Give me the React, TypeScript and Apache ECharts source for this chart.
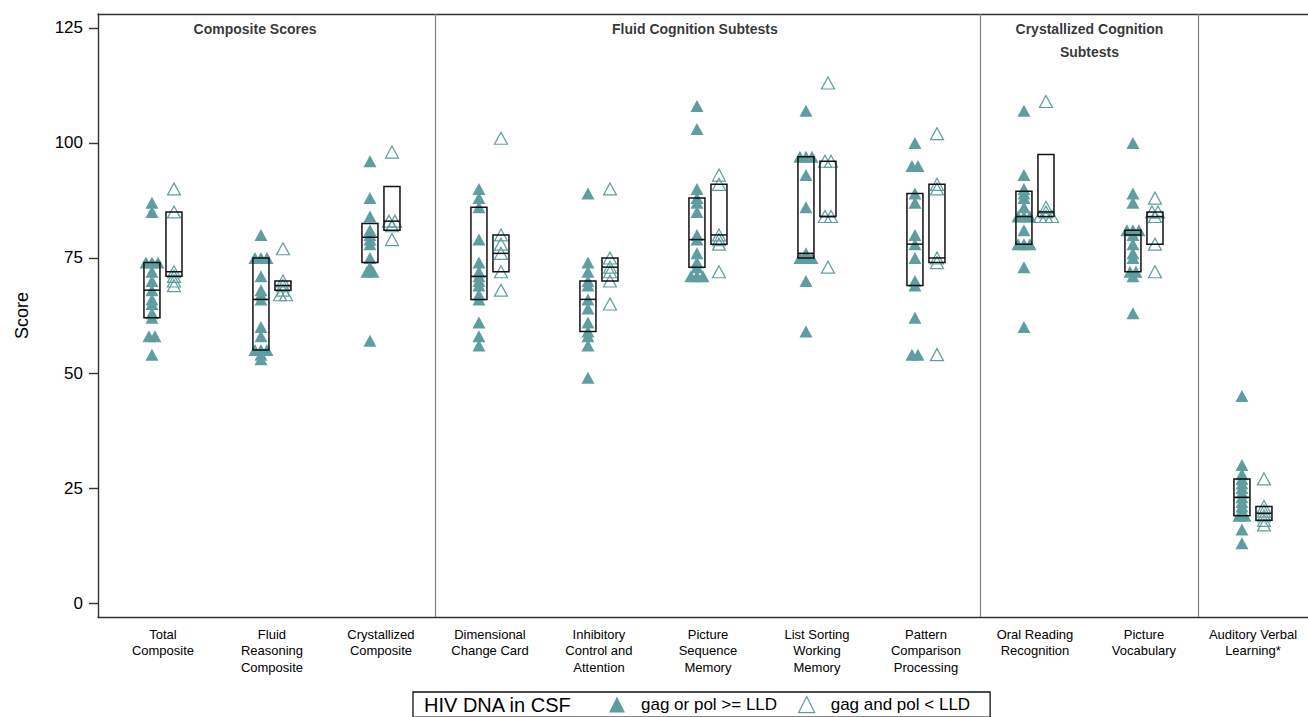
import React, { useEffect, useRef } from 'react';
import * as echarts from 'echarts';

const categories = [
  'Total\nComposite',
  'Fluid\nReasoning\nComposite',
  'Crystallized\nComposite',
  'Dimensional\nChange Card',
  'Inhibitory\nControl and\nAttention',
  'Picture\nSequence\nMemory',
  'List Sorting\nWorking\nMemory',
  'Pattern\nComparison\nProcessing',
  'Oral Reading\nRecognition',
  'Picture\nVocabulary',
  'Auditory Verbal\nLearning*',
];

// gag or pol >= LLD (filled)
const filledValues: number[][] = [
  [87, 85, 74, 74, 74, 72, 70, 68, 66, 65, 63, 62, 58, 58, 54],
  [80, 75, 75, 75, 71, 68, 67, 66, 60, 58, 55, 55, 55, 54, 53],
  [96, 88, 84, 81, 80, 79, 78, 75, 73, 72, 72, 57],
  [90, 88, 86, 79, 74, 72, 71, 70, 69, 67, 66, 61, 58, 56],
  [89, 74, 72, 70, 69, 66, 64, 61, 59, 58, 56, 49],
  [108, 103, 90, 88, 87, 85, 80, 79, 76, 74, 73, 71, 71, 71],
  [107, 97, 97, 97, 93, 86, 76, 75, 75, 75, 70, 59],
  [100, 95, 95, 89, 87, 80, 78, 75, 70, 69, 62, 54, 54],
  [107, 93, 90, 89, 88, 86, 84, 84, 84, 81, 78, 78, 78, 73, 60],
  [100, 89, 87, 81, 81, 81, 80, 78, 76, 75, 72, 72, 71, 63],
  [45, 30, 28, 27, 26, 25, 24, 23, 22, 21, 20, 19, 19, 16, 13],
];

// gag and pol < LLD (hollow)
const hollowValues: number[][] = [
  [90, 85, 72, 71, 70, 69],
  [77, 70, 69, 68, 67, 67],
  [98, 83, 83, 82, 79],
  [101, 80, 78, 76, 72, 68],
  [90, 75, 73, 72, 70, 65],
  [93, 91, 80, 79, 78, 72],
  [113, 96, 96, 84, 84, 73],
  [102, 91, 90, 75, 74, 54],
  [109, 86, 85, 84, 84, 84],
  [88, 85, 85, 84, 78, 72],
  [27, 21, 20, 19, 18, 17],
];

// [Q1, median, Q3]
const filledBoxes: number[][] = [
  [62, 68, 74],
  [55, 66, 75],
  [74, 79.5, 82.5],
  [66, 71, 86],
  [59, 66, 70],
  [73, 79, 88],
  [75, 76, 97],
  [69, 78, 89],
  [78, 84, 89.5],
  [72, 80, 81],
  [19, 23, 27],
];
const hollowBoxes: number[][] = [
  [71, 72, 85],
  [68, 69, 70],
  [81, 83, 90.5],
  [72, 76, 80],
  [70, 73, 75],
  [78, 80, 91],
  [84, 84, 96],
  [74, 75, 91],
  [84, 85, 97.5],
  [78, 84, 85],
  [18, 19.5, 21],
];

const sectionTitles = ['Composite Scores', 'Fluid Cognition Subtests', 'Crystallized Cognition\nSubtests'];
const sectionTitleX = [0.845, 4.88, 8.5];
const sectionTitleY = 127.3;
const dividers = [2.5, 7.5, 9.5];
const yTicks = [0, 25, 50, 75, 100, 125];
const xTicks = categories.map((_, i) => i);

const legendTitle = 'HIV DNA in CSF';
const filledName = 'gag or pol >= LLD';
const hollowName = 'gag and pol < LLD';

const TEAL = '#5f9ea0';
const FONT = '"Liberation Sans", Arial, sans-serif';
const GROUP_OFFSET = 0.101;
const JITTER = 0.055;
const BOX_WIDTH = 0.147;

function jitter(values: number[], base: number): number[][] {
  const counts: Record<string, number> = {};
  values.forEach((v) => (counts[v] = (counts[v] || 0) + 1));
  const seen: Record<string, number> = {};
  return values.map((v) => {
    const n = counts[v];
    const k = (seen[v] = seen[v] === undefined ? 0 : seen[v] + 1);
    return [base + (k - (n - 1) / 2) * JITTER, v];
  });
}

const TRI_ICON = 'path://M0,0 M38,16 M11,16 L19,0 L27,16 Z';

export default function App() {
  const ref = useRef<HTMLDivElement>(null);
  useEffect(() => {
    if (!ref.current) return;
    const chart = echarts.init(ref.current, undefined, { renderer: 'svg' });

    const filledData: number[][] = [];
    const hollowData: number[][] = [];
    filledValues.forEach((vals, i) => filledData.push(...jitter(vals, i - GROUP_OFFSET)));
    hollowValues.forEach((vals, i) => hollowData.push(...jitter(vals, i + GROUP_OFFSET)));
    const boxData: number[][] = [];
    filledBoxes.forEach((b, i) => boxData.push([i - GROUP_OFFSET, b[0], b[1], b[2]]));
    hollowBoxes.forEach((b, i) => boxData.push([i + GROUP_OFFSET, b[0], b[1], b[2]]));

    const axisLineStyle = { color: '#333', width: 1.4 };

    chart.setOption({
      animation: false,
      textStyle: { fontFamily: FONT },
      grid: { left: 98, top: 14, right: 0, bottom: 100 },
      xAxis: [
        {
          type: 'value',
          min: -0.596,
          max: 10.505,
          axisLine: { show: true, onZero: false, lineStyle: axisLineStyle },
          axisTick: { show: false },
          splitLine: { show: false },
          axisLabel: {
            customValues: xTicks,
            formatter: (v: number) => categories[Math.round(v)] ?? '',
            fontSize: 13,
            lineHeight: 16.5,
            color: '#000',
            margin: 9,
            verticalAlign: 'top',
            showMinLabel: true,
            showMaxLabel: true,
          },
        },
        {
          type: 'value',
          position: 'top',
          min: -0.596,
          max: 10.505,
          axisLine: { show: true, onZero: false, lineStyle: axisLineStyle },
          axisTick: { show: false },
          axisLabel: { show: false },
          splitLine: { show: false },
        },
      ],
      yAxis: {
        type: 'value',
        min: -3,
        max: 128,
        name: 'Score',
        nameLocation: 'middle',
        nameGap: 67,
        nameTextStyle: { fontSize: 18, color: '#000' },
        axisLine: { show: true, onZero: false, lineStyle: axisLineStyle },
        axisTick: { show: true, length: 9, customValues: yTicks, lineStyle: axisLineStyle },
        axisLabel: { customValues: yTicks, fontSize: 17, color: '#000', margin: 15 },
        splitLine: { show: false },
      },
      legend: {
        left: 413,
        top: 692,
        orient: 'horizontal',
        padding: [4, 20, 4, 185],
        borderColor: '#111',
        borderWidth: 1.3,
        itemWidth: 38,
        itemHeight: 16,
        itemGap: 10,
        selectedMode: false,
        textStyle: { fontSize: 17, color: '#000' },
        data: [
          { name: filledName, icon: TRI_ICON, itemStyle: { color: TEAL, borderWidth: 0 } },
          {
            name: hollowName,
            icon: TRI_ICON,
            itemStyle: { color: 'rgba(255,255,255,0)', borderColor: TEAL, borderWidth: 1.2 },
          },
        ],
      },
      graphic: [
        {
          type: 'text',
          left: 424,
          top: 695,
          style: { text: legendTitle, fontSize: 20, fill: '#000', fontFamily: FONT },
        },
      ],
      series: [
        {
          name: 'sections',
          type: 'scatter',
          silent: true,
          symbolSize: 1,
          itemStyle: { color: 'rgba(0,0,0,0)' },
          data: sectionTitleX.map((x, i) => ({
            value: [x, sectionTitleY],
            label: { formatter: sectionTitles[i] },
          })),
          label: {
            show: true,
            position: 'bottom',
            distance: 0,
            fontSize: 14,
            fontWeight: 'bold',
            lineHeight: 23,
            color: '#000',
            fontFamily: FONT,
          },
          markLine: {
            silent: true,
            symbol: 'none',
            label: { show: false },
            lineStyle: { color: '#808080', width: 1.2, type: 'solid' },
            data: dividers.map((x) => ({ xAxis: x })),
          },
          z: 1,
        },
        {
          name: filledName,
          type: 'scatter',
          symbol: 'triangle',
          symbolSize: [13, 12],
          itemStyle: { color: TEAL, opacity: 1 },
          data: filledData,
          z: 2,
        },
        {
          name: hollowName,
          type: 'scatter',
          symbol: 'triangle',
          symbolSize: [13, 12],
          itemStyle: { color: 'rgba(255,255,255,0)', borderColor: TEAL, borderWidth: 1.2, opacity: 1 },
          data: hollowData,
          z: 2,
        },
        {
          name: 'IQR',
          type: 'custom',
          silent: true,
          data: boxData,
          encode: { x: 0, y: [1, 2, 3] },
          z: 3,
          renderItem: (params: any, api: any) => {
            const x = api.value(0);
            const top = api.coord([x, api.value(3)]);
            const bot = api.coord([x, api.value(1)]);
            const med = api.coord([x, api.value(2)]);
            const w = api.size([BOX_WIDTH, 0])[0];
            return {
              type: 'group',
              children: [
                {
                  type: 'rect',
                  shape: { x: top[0] - w / 2, y: top[1], width: w, height: bot[1] - top[1] },
                  style: { fill: 'none', stroke: '#111', lineWidth: 1.5 },
                },
                {
                  type: 'line',
                  shape: { x1: med[0] - w / 2, y1: med[1], x2: med[0] + w / 2, y2: med[1] },
                  style: { stroke: '#111', lineWidth: 1.5 },
                },
              ],
            };
          },
        },
      ],
    });
    return () => chart.dispose();
  }, []);
  return (
    <div
      ref={ref}
      style={{ position: 'absolute', left: 0, top: 0, width: 1308, height: 717 }}
    />
  );
}
